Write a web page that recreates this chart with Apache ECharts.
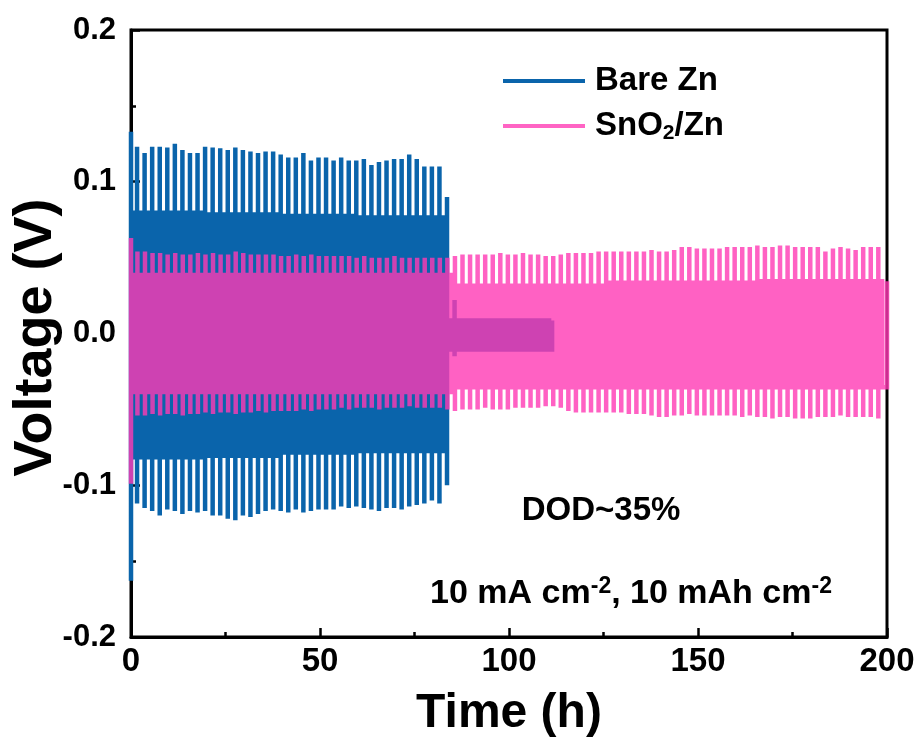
<!DOCTYPE html>
<html>
<head>
<meta charset="utf-8">
<script src="https://cdn.jsdelivr.net/npm/echarts@6/dist/echarts.min.js"></script>
<style>
html,body{margin:0;padding:0;background:#fff;}
#chart{width:919px;height:742px;}
</style>
</head>
<body>
<div id="chart"></div>
<script>
// ---------------- data ----------------
const seriesNames = ['Bare Zn', 'SnO2/Zn'];
const cycleHours = 2;           // 10 mAh cm-2 at 10 mA cm-2 -> 1 h + 1 h
const halfCycleHours = 1;
const bareFirstShift = -0.4;    // phase of Bare Zn cycles (h)
const snFirstShift = -0.3;      // phase of SnO2/Zn cycles (h)
const bareEnd = 111.4;          // last point of Bare Zn (h)
const snEnd = 200;              // last point of SnO2/Zn (h)

// Bare Zn: per-cycle upper voltage peak (V)
const bareTop = [0.133, 0.123, 0.119, 0.123, 0.123, 0.1225, 0.125, 0.121, 0.119, 0.119,
  0.123, 0.1225, 0.122, 0.121, 0.1225, 0.121, 0.120, 0.119, 0.120, 0.120,
  0.118, 0.116, 0.116, 0.119, 0.114, 0.116, 0.116, 0.114, 0.116, 0.114,
  0.114, 0.115, 0.111, 0.113, 0.114, 0.115, 0.115, 0.118, 0.115, 0.110,
  0.110, 0.110, 0.090, 0.022,
  0.0085, 0.0085, 0.0085, 0.0085, 0.0085, 0.0085, 0.0085, 0.0085, 0.0085, 0.0085, 0.0085, 0.0085];
// Bare Zn: per-cycle lower voltage peak (V)
const bareBottom = [-0.163, -0.112, -0.115, -0.117, -0.120, -0.116, -0.117, -0.119, -0.117, -0.118,
  -0.117, -0.120, -0.120, -0.122, -0.123, -0.120, -0.121, -0.119, -0.117, -0.116,
  -0.117, -0.118, -0.116, -0.118, -0.117, -0.116, -0.116, -0.116, -0.114, -0.115,
  -0.114, -0.115, -0.116, -0.117, -0.115, -0.115, -0.116, -0.114, -0.113, -0.112,
  -0.110, -0.112, -0.100, -0.015,
  -0.0105, -0.0105, -0.0105, -0.0105, -0.0105, -0.0105, -0.0105, -0.0105, -0.0105, -0.0105, -0.0105, -0.0105];
// Bare Zn plateau levels as [value, number of cycles]
const barePlateauTopRuns = [[0.0795, 10], [0.0785, 10], [0.0775, 10], [0.0765, 12], [0.0085, 14]];
const barePlateauBottomRuns = [[-0.0815, 10], [-0.0805, 10], [-0.0785, 10], [-0.0775, 12], [-0.0105, 14]];

// SnO2/Zn: per-cycle upper voltage peak (V)
const snTop = [0.063, 0.054, 0.054, 0.053, 0.053, 0.052, 0.053, 0.052, 0.052, 0.053,
  0.052, 0.053, 0.052, 0.052, 0.054, 0.053, 0.052, 0.052, 0.052, 0.052,
  0.051, 0.051, 0.052, 0.051, 0.052, 0.051, 0.051, 0.051, 0.051, 0.051,
  0.050, 0.051, 0.050, 0.050, 0.050, 0.051, 0.050, 0.050, 0.050, 0.050,
  0.050, 0.050, 0.050,
  0.051, 0.052, 0.052, 0.052, 0.052, 0.052, 0.053, 0.052, 0.052, 0.053,
  0.052, 0.052, 0.051, 0.051, 0.052, 0.053, 0.053, 0.053, 0.053, 0.054,
  0.054, 0.054, 0.054, 0.054, 0.054, 0.054, 0.055, 0.054, 0.054, 0.055,
  0.057, 0.057, 0.056, 0.056, 0.056, 0.056, 0.057, 0.057, 0.057, 0.057,
  0.058, 0.057, 0.057, 0.058, 0.058, 0.057, 0.057, 0.057, 0.057, 0.054,
  0.056, 0.057, 0.056, 0.055, 0.057, 0.057, 0.057];
// SnO2/Zn: per-cycle lower voltage peak (V)
const snBottom = [-0.099, -0.054, -0.054, -0.053, -0.054, -0.053, -0.053, -0.054, -0.053, -0.053,
  -0.052, -0.053, -0.052, -0.052, -0.053, -0.052, -0.052, -0.051, -0.052, -0.051,
  -0.051, -0.051, -0.051, -0.050, -0.051, -0.050, -0.050, -0.050, -0.049, -0.050,
  -0.049, -0.049, -0.049, -0.050, -0.049, -0.049, -0.049, -0.048, -0.049, -0.049,
  -0.049, -0.049, -0.050,
  -0.051, -0.050, -0.050, -0.050, -0.049, -0.050, -0.050, -0.050, -0.049, -0.049,
  -0.049, -0.049, -0.048, -0.048, -0.049, -0.051, -0.052, -0.052, -0.052, -0.052,
  -0.052, -0.052, -0.052, -0.053, -0.053, -0.053, -0.054, -0.055, -0.055, -0.054,
  -0.054, -0.053, -0.054, -0.054, -0.054, -0.054, -0.054, -0.054, -0.055, -0.054,
  -0.055, -0.055, -0.056, -0.055, -0.055, -0.056, -0.056, -0.056, -0.055, -0.055,
  -0.055, -0.054, -0.055, -0.055, -0.055, -0.055, -0.056];
const snPlateauTopRuns = [[0.0385, 43], [0.0315, 20], [0.0335, 20], [0.0345, 17]];
const snPlateauBottomRuns = [[-0.0385, 43], [-0.0355, 57]];

const xTicks = {min: 0, max: 200, interval: 50};
const yTicks = {min: -0.2, max: 0.2, interval: 0.1};

// ---------------- building the curves ----------------
function expandRuns(runs) {
  const out = [];
  runs.forEach(function (r) { for (let i = 0; i < r[1]; i++) out.push(r[0]); });
  return out;
}
function cycleStarts(n, shift) {
  const s = [];
  for (let k = 0; k < n; k++) s.push(k === 0 ? 0 : k * cycleHours + shift);
  return s;
}
// one cycle: jump to the lower and upper peaks, then the upper plateau for
// half a cycle, then the lower plateau until the next cycle
function buildWave(starts, top, bot, pTop, pBot, tEnd) {
  const pts = [];
  for (let k = 0; k < starts.length; k++) {
    const t0 = starts[k];
    const t1 = k + 1 < starts.length ? starts[k + 1] : tEnd;
    const prevN = k > 0 ? pBot[k - 1] : pBot[k];
    const tm = Math.min(t0 + halfCycleHours, t1);
    pts.push([t0, prevN], [t0, bot[k]], [t0, top[k]], [t0, pTop[k]],
             [tm, pTop[k]], [tm, pBot[k]], [t1, pBot[k]]);
  }
  pts.push([tEnd, pTop[pTop.length - 1]]);
  return pts;
}

const bareData = buildWave(cycleStarts(bareTop.length, bareFirstShift), bareTop, bareBottom,
  expandRuns(barePlateauTopRuns), expandRuns(barePlateauBottomRuns), bareEnd);
const snData = buildWave(cycleStarts(snTop.length, snFirstShift), snTop, snBottom,
  expandRuns(snPlateauTopRuns), expandRuns(snPlateauBottomRuns), snEnd);

// ---------------- chart ----------------
const FONT = '"Liberation Sans", Arial, Helvetica, sans-serif';
const BLUE = '#0a64ab';
const PINK = 'rgb(255,57,180)';
const chart = echarts.init(document.getElementById('chart'), null, {renderer: 'canvas'});
chart.setOption({
  animation: false,
  backgroundColor: '#ffffff',
  grid: {left: 131, right: 32, top: 30, bottom: 105, show: true, borderColor: '#000', borderWidth: 3,
    backgroundColor: 'transparent', containLabel: false, outerBoundsMode: 'none'},
  legend: {
    orient: 'vertical', left: 503, top: 63, padding: 0, itemWidth: 82, itemHeight: 4, itemGap: 9,
    data: [
      {name: seriesNames[0], icon: 'rect', itemStyle: {color: BLUE}},
      {name: seriesNames[1], icon: 'rect', itemStyle: {color: 'rgb(255,100,196)'}}
    ],
    formatter: function (name) { return name === 'SnO2/Zn' ? 'SnO{sub|2}/Zn' : name; },
    textStyle: {
      fontFamily: FONT, fontWeight: 'bold', fontSize: 33, color: '#000', lineHeight: 36, padding: [0, 0, 0, 5],
      rich: {sub: {fontFamily: FONT, fontWeight: 'bold', fontSize: 21, lineHeight: 24, verticalAlign: 'bottom', color: '#000'}}
    }
  },
  xAxis: {
    type: 'value', min: xTicks.min, max: xTicks.max, interval: xTicks.interval,
    name: 'Time (h)', nameLocation: 'middle', nameGap: 53, nameMoveOverlap: false,
    nameTextStyle: {fontFamily: FONT, fontWeight: 'bold', fontSize: 48, color: '#000'},
    axisLine: {show: true, onZero: false, lineStyle: {color: '#000', width: 3}},
    axisTick: {show: true, inside: true, length: 9, lineStyle: {color: '#000', width: 2.5}},
    minorTick: {show: true, splitNumber: 2, length: 5, lineStyle: {color: '#000', width: 2.5}},
    axisLabel: {margin: 8, fontFamily: FONT, fontWeight: 'bold', fontSize: 33, color: '#000'},
    splitLine: {show: false}
  },
  yAxis: {
    type: 'value', min: yTicks.min, max: yTicks.max, interval: yTicks.interval,
    name: 'Voltage (V)', nameLocation: 'middle', nameGap: 68, nameRotate: 90, nameMoveOverlap: false,
    nameTextStyle: {fontFamily: FONT, fontWeight: 'bold', fontSize: 54, color: '#000', padding: [0, 8, 0, 0]},
    axisLine: {show: true, onZero: false, lineStyle: {color: '#000', width: 3}},
    axisTick: {show: true, inside: true, length: 9, lineStyle: {color: '#000', width: 2.5}},
    minorTick: {show: true, splitNumber: 2, length: 5, lineStyle: {color: '#000', width: 2.5}},
    axisLabel: {margin: 15, fontFamily: FONT, fontWeight: 'bold', fontSize: 31, color: '#000',
      formatter: function (v) { return (Math.abs(v) < 1e-9 ? 0 : v).toFixed(1); }},
    splitLine: {show: false}
  },
  series: [
    {
      name: seriesNames[0], type: 'line', data: bareData, showSymbol: false, symbol: 'none',
      clip: true, sampling: null, z: 2,
      lineStyle: {color: BLUE, width: 4.5, join: 'miter', cap: 'butt'},
      itemStyle: {color: BLUE}
    },
    {
      name: seriesNames[1], type: 'line', data: snData, showSymbol: false, symbol: 'none',
      clip: true, z: 3,
      lineStyle: {color: PINK, width: 4.5, opacity: 0.8, join: 'miter', cap: 'butt'},
      itemStyle: {color: 'rgb(255,100,196)'}
    }
  ],
  graphic: [
    {type: 'text', x: 601, y: 511, z: 10,
      style: {text: 'DOD~35%', fontFamily: FONT, fontWeight: 'bold', fontSize: 33, fill: '#000', align: 'center', verticalAlign: 'middle'}},
    {type: 'text', x: 631, y: 594, z: 10,
      style: {text: '10 mA cm{sup|-2}, 10 mAh cm{sup|-2}', fontFamily: FONT, fontWeight: 'bold', fontSize: 34, lineHeight: 38,
        fill: '#000', align: 'center', verticalAlign: 'middle',
        rich: {sup: {fontFamily: FONT, fontWeight: 'bold', fontSize: 23, lineHeight: 22, verticalAlign: 'top', fill: '#000'}}}}
  ]
});
</script>
</body>
</html>
